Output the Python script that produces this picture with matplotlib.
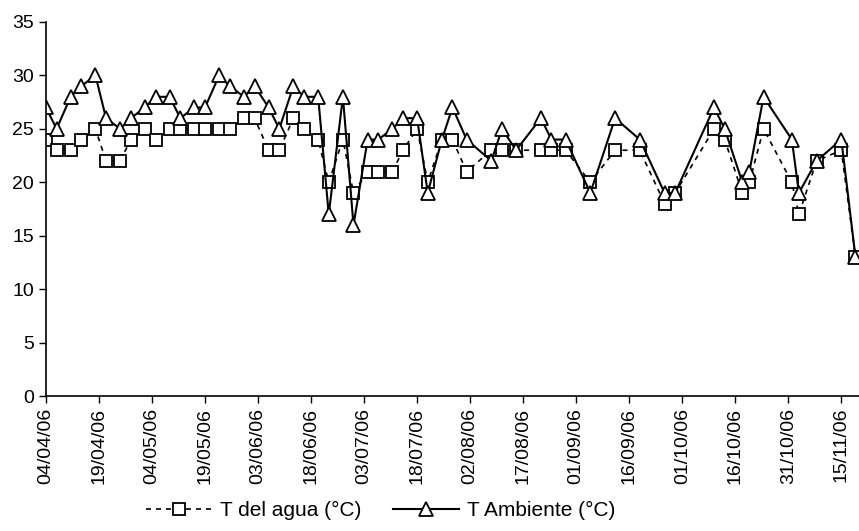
import matplotlib
matplotlib.use('Agg')
import matplotlib.pyplot as plt
import matplotlib.dates as mdates
import pandas as pd

plt.rcParams['font.family'] = ['Liberation Sans', 'DejaVu Sans']

# fechas de muestreo (dd/mm/yy)
fechas = ['04/04/06', '07/04/06', '11/04/06', '14/04/06', '18/04/06', '21/04/06',
          '25/04/06', '28/04/06', '02/05/06', '05/05/06', '09/05/06', '12/05/06',
          '16/05/06', '19/05/06', '23/05/06', '26/05/06', '30/05/06', '02/06/06',
          '06/06/06', '09/06/06', '13/06/06', '16/06/06', '20/06/06', '23/06/06',
          '27/06/06', '30/06/06', '04/07/06', '07/07/06', '11/07/06', '14/07/06',
          '18/07/06', '21/07/06', '25/07/06', '28/07/06', '01/08/06', '08/08/06',
          '11/08/06', '15/08/06', '22/08/06', '25/08/06', '29/08/06', '05/09/06',
          '12/09/06', '19/09/06', '26/09/06', '29/09/06', '10/10/06', '13/10/06',
          '18/10/06', '20/10/06', '24/10/06', '01/11/06', '03/11/06', '08/11/06',
          '15/11/06', '19/11/06']

t_agua = [24, 23, 23, 24, 25, 22, 22, 24, 25, 24, 25, 25, 25, 25, 25, 25, 26, 26,
          23, 23, 26, 25, 24, 20, 24, 19, 21, 21, 21, 23, 25, 20, 24, 24, 21, 23,
          23, 23, 23, 23, 23, 20, 23, 23, 18, 19, 25, 24, 19, 20, 25, 20, 17, 22,
          23, 13]

t_ambiente = [27, 25, 28, 29, 30, 26, 25, 26, 27, 28, 28, 26, 27, 27, 30, 29, 28, 29,
              27, 25, 29, 28, 28, 17, 28, 16, 24, 24, 25, 26, 26, 19, 24, 27, 24, 22,
              25, 23, 26, 24, 24, 19, 26, 24, 19, 19, 27, 25, 20, 21, 28, 24, 19, 22,
              24, 13]

x = pd.to_datetime(fechas, format='%d/%m/%y')

fig = plt.figure(figsize=(8.59, 5.31), dpi=100)
ax = fig.add_axes([0.0535, 0.2542, 0.9465, 0.7044])

ax.plot(x, t_agua, color='black', linewidth=1.2, linestyle=(0, (3, 3)),
        marker='s', markersize=8.5, markerfacecolor='white', markeredgecolor='black',
        markeredgewidth=1.3, label='T del agua (°C)')
ax.plot(x, t_ambiente, color='black', linewidth=1.5, linestyle='-',
        marker='^', markersize=10, markerfacecolor='white', markeredgecolor='black',
        markeredgewidth=1.3, label='T Ambiente (°C)')

inicio = pd.Timestamp('2006-04-04')
ax.set_xlim(inicio, inicio + pd.Timedelta(days=230))
ax.set_ylim(0, 35)
ax.set_yticks(range(0, 36, 5))

ticks = pd.date_range(inicio, periods=16, freq='15D')
ax.set_xticks(ticks)
ax.xaxis.set_major_formatter(mdates.DateFormatter('%d/%m/%y'))
plt.setp(ax.get_xticklabels(), rotation=90)

ax.tick_params(axis='both', labelsize=14, direction='out', length=5, width=1)
ax.spines['top'].set_visible(False)
ax.spines['right'].set_visible(False)
ax.spines['left'].set_linewidth(1.2)
ax.spines['bottom'].set_linewidth(1.2)

fig.legend(loc='lower center', bbox_to_anchor=(0.443, -0.015), ncol=2, frameon=False,
           fontsize=15, handlelength=3.2, handletextpad=0.35, columnspacing=1.5)

fig.savefig('out.png', dpi=100)
